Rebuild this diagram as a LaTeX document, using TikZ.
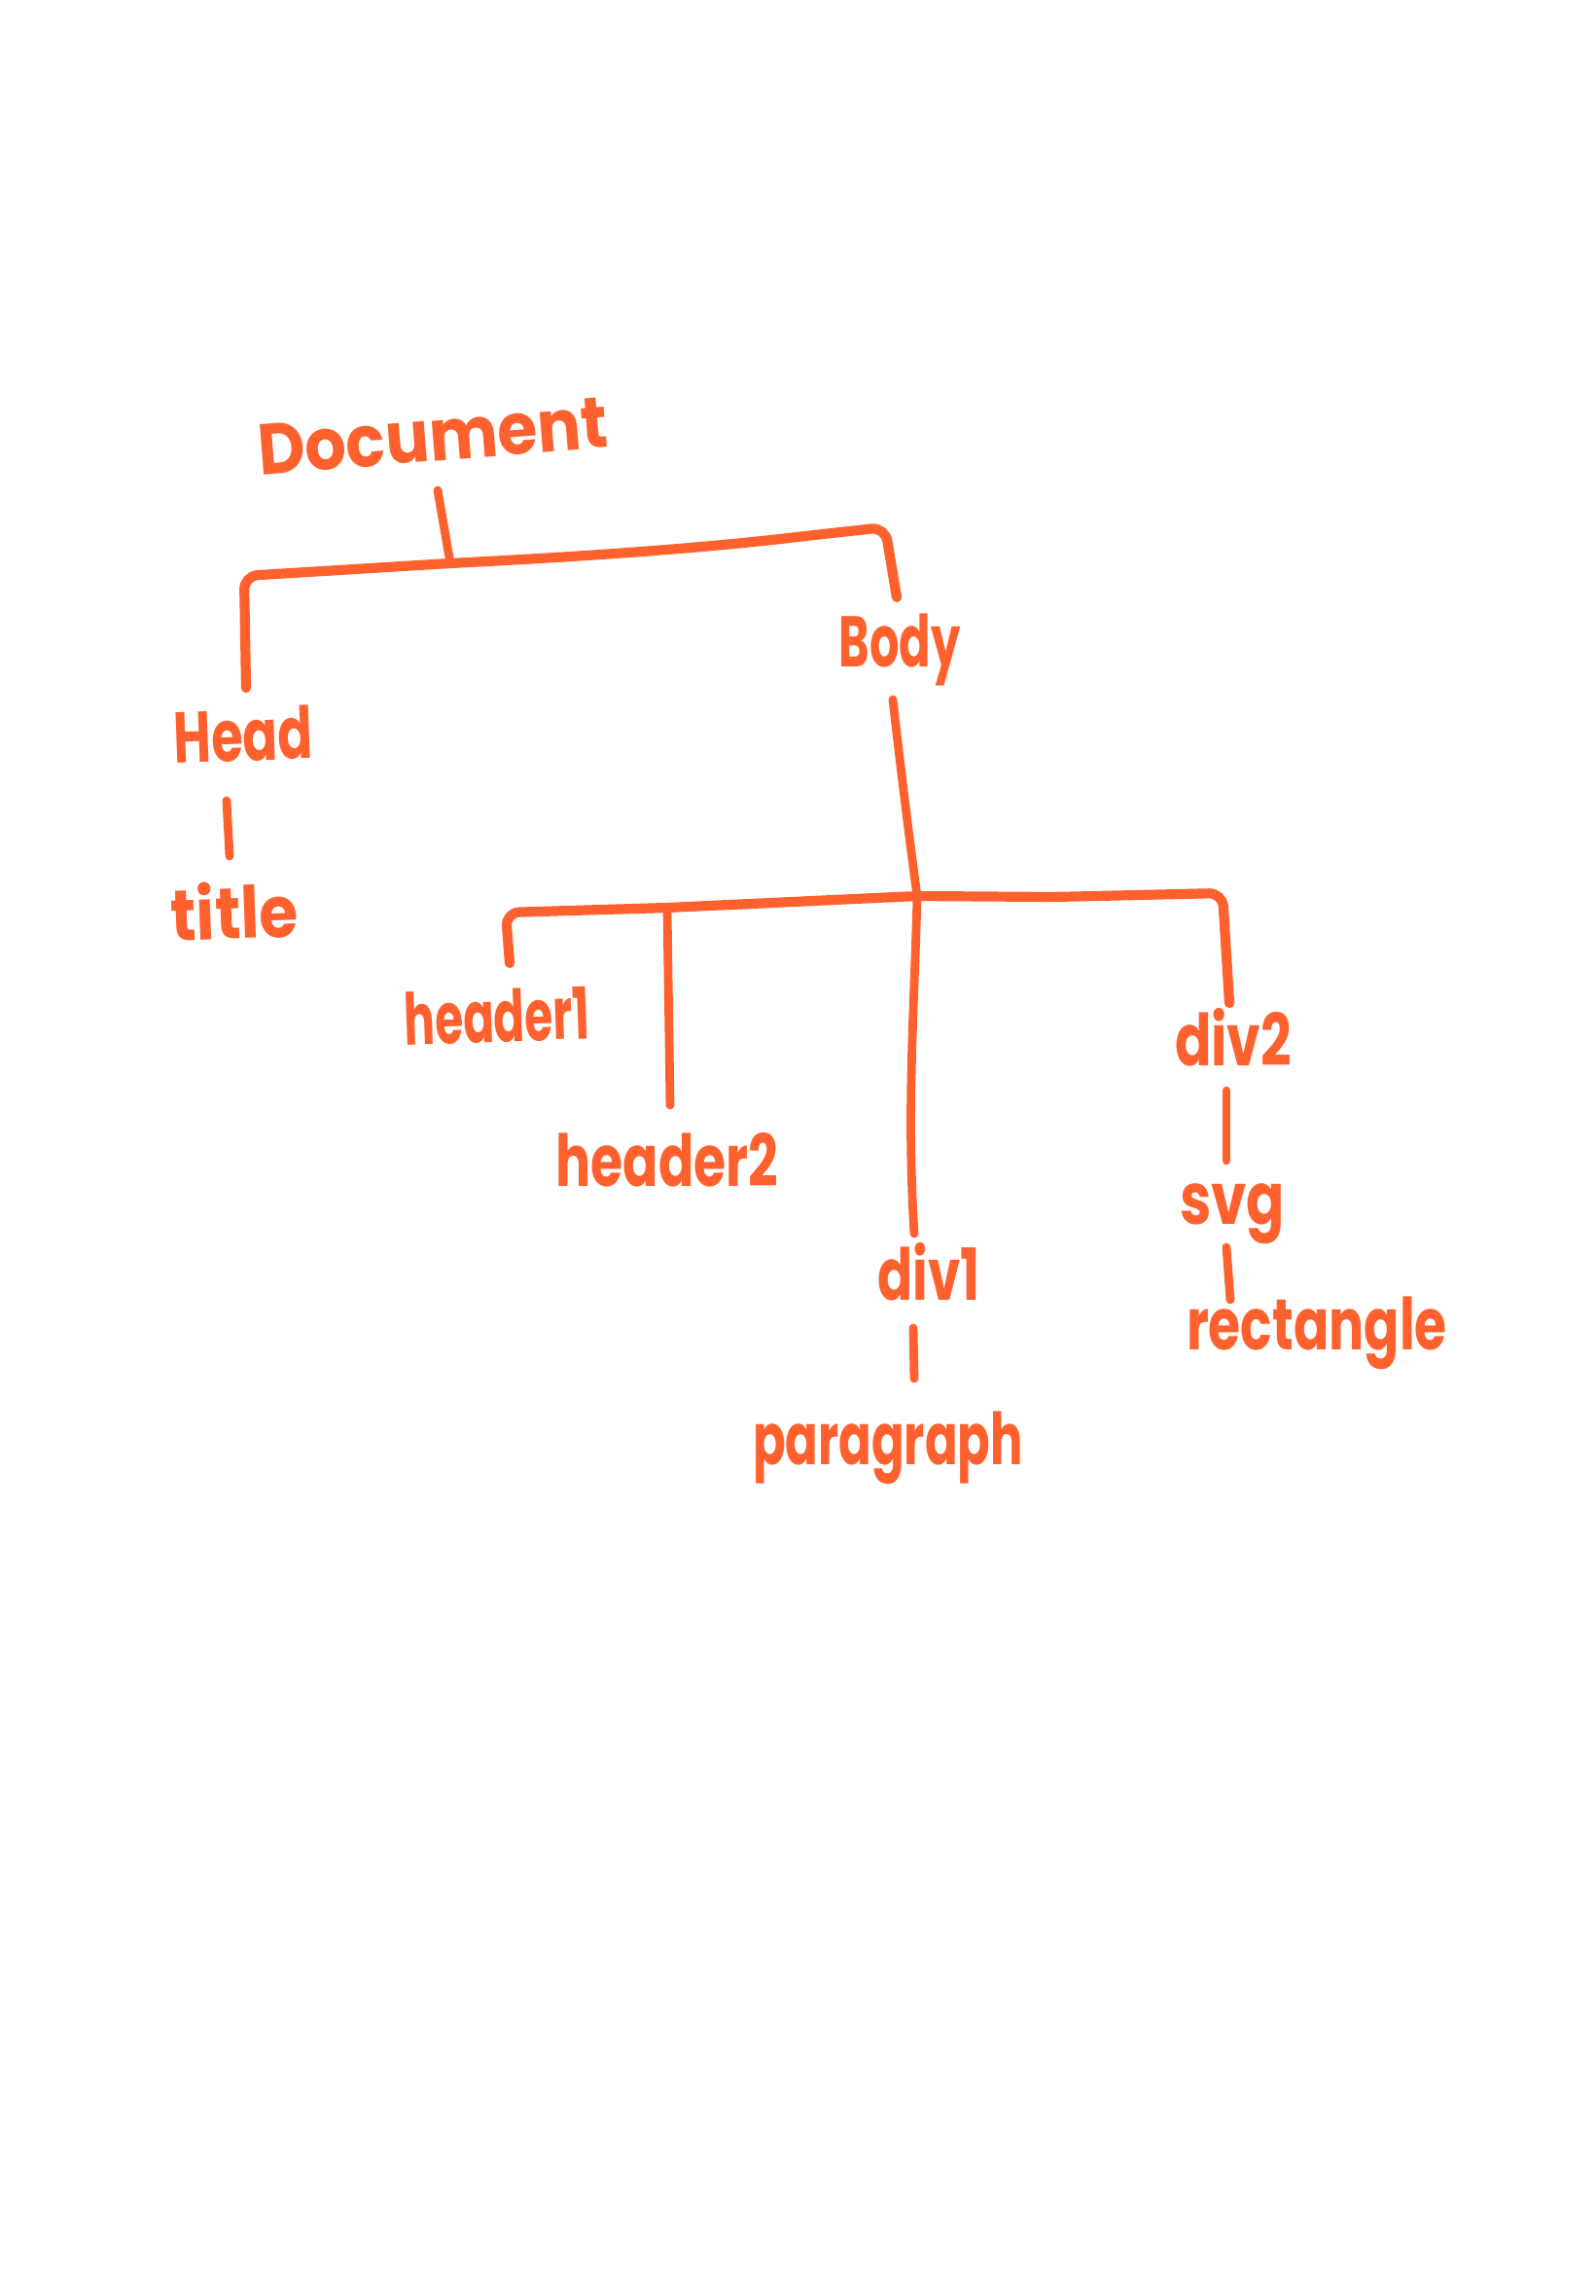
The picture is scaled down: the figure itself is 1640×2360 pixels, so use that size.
\documentclass[tikz,border=0pt]{standalone}
\usepackage{fontspec}
\setmainfont{Poppins}
\usepackage{graphicx}
\definecolor{hand}{HTML}{FF612E}
\newcommand{\hw}[2]{\resizebox{#1mm}{\height}{#2}}
\begin{document}
\begin{tikzpicture}[x=0.1mm,y=-0.1mm,
  lbl/.style={text=hand,inner sep=0pt,anchor=base,font=\fontsize{21}{25}\selectfont\bfseries},
  edge/.style={draw=hand,line width=2.5pt,line cap=round,line join=round},
  bar/.style={edge,line width=2.9pt,rounded corners=1.4mm}]
\useasboundingbox (0,0) rectangle (1640,2360);
\fill[white] (0,0) rectangle (1640,2360);
% labels
\node[lbl,rotate=4.5] (doc) at (447,474) {\hw{36.1}{Document}};
\node[lbl,rotate=2] (head) at (251,782) {\hw{14.3}{Head}};
\node[lbl,rotate=2] (title) at (242,965) {\hw{13.1}{title}};
\node[lbl] (body) at (925,685) {\hw{12.5}{Body}};
\node[lbl,rotate=2] (h1) at (512,1071) {\hw{19.1}{header1}};
\node[lbl] (h2) at (686,1219) {\hw{22.9}{header2}};
\node[lbl] (div1) at (955,1336) {\hw{10.5}{div1}};
\node[lbl] (para) at (913,1505) {\hw{27.8}{paragraph}};
\node[lbl] (div2) at (1268,1095) {\hw{12.0}{div2}};
\node[lbl] (svg) at (1267,1258) {\hw{10.8}{svg}};
\node[lbl] (rect) at (1354,1387) {\hw{26.8}{rectangle}};
% connector ends
\coordinate (docS) at (450,504);
\coordinate (j1) at (463,579);
\coordinate (headN) at (253,707);
\coordinate (bodyN) at (922,614);
\coordinate (bodyS) at (918,719);
\coordinate (j2) at (943,921);
\coordinate (h1N) at (524,990);
\coordinate (h2j) at (686,933);
\coordinate (h2N) at (689,1136);
\coordinate (div1N) at (940,1268);
\coordinate (div2N) at (1264,1031);
\coordinate (headS) at (233,823);
\coordinate (titleN) at (236,880);
\coordinate (div1S) at (939,1365);
\coordinate (paraN) at (940,1417);
\coordinate (div2S) at (1261,1121);
\coordinate (svgN) at (1261,1193);
\coordinate (svgS) at (1261,1282);
\coordinate (rectN) at (1265,1336);
% connectors
\draw[edge] (docS) -- (j1);
\draw[bar] (headN) -- (251,592) -- (j1) .. controls (560,574) and (700,566) .. (828,551) -- (910,542) -- (bodyN);
\draw[edge] (headS) -- (titleN);
\draw[edge] (bodyS) .. controls (926,790) and (936,870) .. (j2);
\draw[bar] (h1N) -- (520,938) -- (h2j) -- (j2) -- (1083,922) -- (1257,918) -- (div2N);
\draw[edge] (h2j) -- (h2N);
\draw[edge] (j2) .. controls (940,1040) and (932,1140) .. (div1N);
\draw[edge] (div1S) -- (paraN);
\draw[edge] (div2S) -- (svgN);
\draw[edge] (svgS) -- (rectN);
\end{tikzpicture}
\end{document}
